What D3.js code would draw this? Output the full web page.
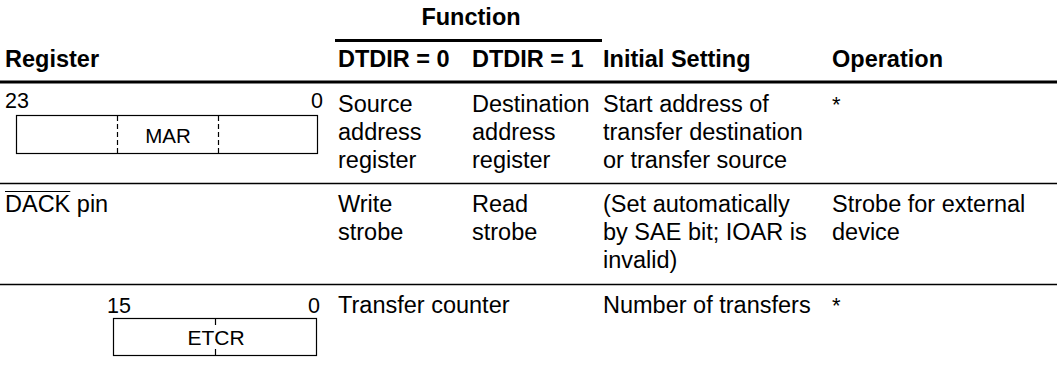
<!DOCTYPE html>
<html>
<head>
<meta charset="utf-8">
<script src="https://cdn.jsdelivr.net/npm/d3@7"></script>
<style>
  html, body { margin: 0; padding: 0; background: #fff; }
  svg { display: block; }
  text { font-family: "Liberation Sans", Arial, Helvetica, sans-serif; fill: #000; }
</style>
</head>
<body>
<svg id="chart" width="1057" height="369"></svg>
<script>
// ---- data ----
const groupHeader = "Function";
const columns = ["Register", "DTDIR = 0", "DTDIR = 1", "Initial Setting", "Operation"];
const rowKeys = ["MAR", "DACK", "ETCR"];
const col1Text = [["Source", "address", "register"], ["Write", "strobe"], ["Transfer counter"]];
const col2Text = [["Destination", "address", "register"], ["Read", "strobe"], []];
const col3Text = [["Start address of", "transfer destination", "or transfer source"],
                  ["(Set automatically", "by SAE bit; IOAR is", "invalid)"],
                  ["Number of transfers"]];
const col4Text = [["*"], ["Strobe for external", "device"], ["*"]];
const marBits = ["23", "0"];
const etcrBits = ["15", "0"];

// ---- layout ----
const svg = d3.select("#chart");
const W = 1057;
const fs = 23.5;
const lineH = 28;

const x = d3.scaleOrdinal().domain(columns).range([5, 338, 472, 603, 832]);
const rowTop = d3.scaleOrdinal().domain(rowKeys).range([83, 183, 284]);
const firstBaseline = 29;

// Group header
svg.append("text").attr("x", 471).attr("y", 25).attr("text-anchor", "middle")
  .attr("font-weight", "bold").attr("font-size", fs).text(groupHeader);
svg.append("line").attr("x1", 335).attr("x2", 602).attr("y1", 40.5).attr("y2", 40.5)
  .attr("stroke", "#000").attr("stroke-width", 3);

// Column headers
svg.selectAll("text.hdr").data(columns).join("text").attr("class", "hdr")
  .attr("x", d => x(d)).attr("y", 67).attr("font-weight", "bold").attr("font-size", fs)
  .text(d => d);

// Thick rule under header
svg.append("line").attr("x1", 0).attr("x2", W).attr("y1", 82).attr("y2", 82)
  .attr("stroke", "#000").attr("stroke-width", 3);

// Row separators
svg.selectAll("line.sep").data(rowKeys.slice(1)).join("line").attr("class", "sep")
  .attr("x1", 0).attr("x2", W).attr("y1", d => rowTop(d) + 0.5).attr("y2", d => rowTop(d) + 0.5)
  .attr("stroke", "#000").attr("stroke-width", 1.3);

// Cell texts
const cellCols = [[columns[1], col1Text], [columns[2], col2Text], [columns[3], col3Text], [columns[4], col4Text]];
cellCols.forEach(([c, arr]) => {
  arr.forEach((lines, i) => {
    const top = rowTop(rowKeys[i]);
    const g = svg.append("g");
    g.selectAll("text").data(lines).join("text")
      .attr("x", x(c)).attr("y", (d, j) => top + firstBaseline + j * lineH)
      .attr("font-size", d => d === "*" ? 22 : fs)
      .attr("fill", d => d === "*" ? "#555" : "#000")
      .text(d => d);
  });
});

// Row 1: MAR register diagram
{
  const top = rowTop("MAR");
  svg.append("text").attr("x", 5).attr("y", top + 25).attr("font-size", 21.5).text(marBits[0]);
  svg.append("text").attr("x", 323).attr("y", top + 25).attr("text-anchor", "end")
    .attr("font-size", 21.5).text(marBits[1]);
  svg.append("rect").attr("x", 16.5).attr("y", top + 32.5).attr("width", 301).attr("height", 38)
    .attr("fill", "none").attr("stroke", "#000").attr("stroke-width", 1.2);
  [117.5, 218.5].forEach(xx => {
    svg.append("line").attr("x1", xx).attr("x2", xx).attr("y1", top + 33).attr("y2", top + 70)
      .attr("stroke", "#000").attr("stroke-width", 1.2).attr("stroke-dasharray", "5,3");
  });
  svg.append("text").attr("x", 168).attr("y", top + 60).attr("text-anchor", "middle")
    .attr("font-size", 20.5).text("MAR");
}

// Row 2: DACK pin with overline
{
  const top = rowTop("DACK");
  const t = svg.append("text").attr("x", 5).attr("y", top + firstBaseline).attr("font-size", fs);
  t.append("tspan").text("DACK");
  t.append("tspan").text(" pin");
  const w = t.node().firstChild.getComputedTextLength();
  svg.append("line").attr("x1", 5).attr("x2", 5 + w).attr("y1", top + 8.5).attr("y2", top + 8.5)
    .attr("stroke", "#000").attr("stroke-width", 1.2);
}

// Row 3: ETCR register diagram
{
  const top = rowTop("ETCR");
  svg.append("text").attr("x", 107).attr("y", top + 29).attr("font-size", 21.5).text(etcrBits[0]);
  svg.append("text").attr("x", 320).attr("y", top + 29).attr("text-anchor", "end")
    .attr("font-size", 21.5).text(etcrBits[1]);
  svg.append("rect").attr("x", 113.5).attr("y", top + 34.5).attr("width", 203).attr("height", 37)
    .attr("fill", "none").attr("stroke", "#000").attr("stroke-width", 1.2);
  svg.append("line").attr("x1", 215.5).attr("x2", 215.5).attr("y1", top + 35).attr("y2", top + 41)
    .attr("stroke", "#000").attr("stroke-width", 1.2);
  svg.append("line").attr("x1", 215.5).attr("x2", 215.5).attr("y1", top + 65).attr("y2", top + 71)
    .attr("stroke", "#000").attr("stroke-width", 1.2);
  svg.append("text").attr("x", 216).attr("y", top + 61).attr("text-anchor", "middle")
    .attr("font-size", 21).text("ETCR");
}
</script>
</body>
</html>
